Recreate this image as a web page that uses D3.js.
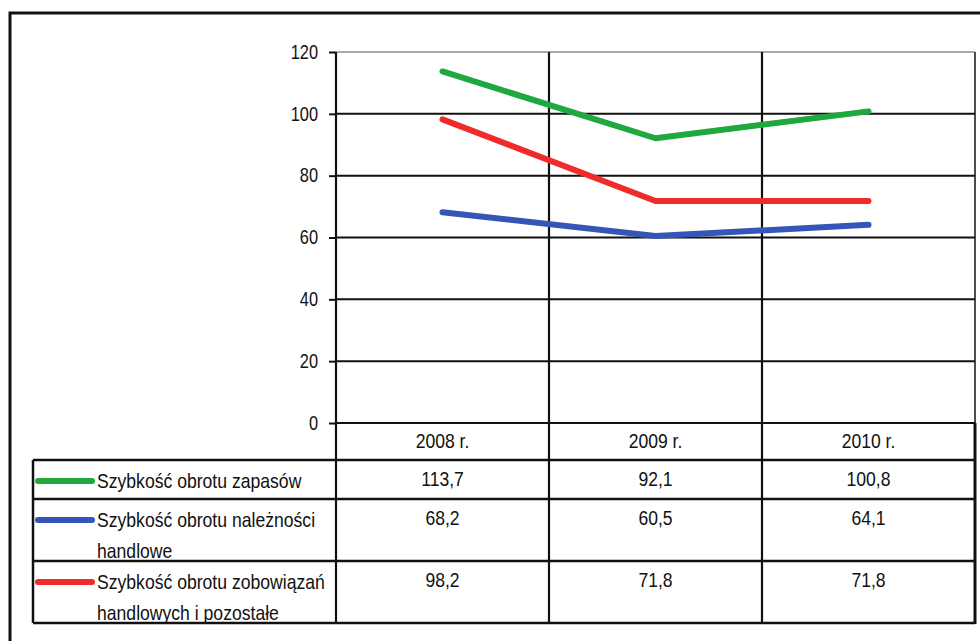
<!DOCTYPE html>
<html>
<head>
<meta charset="utf-8">
<script src="https://cdn.jsdelivr.net/npm/d3@7"></script>
<style>
  html, body { margin: 0; padding: 0; background: #fff; }
  svg text { font-family: "Liberation Sans Narrow", "Arial Narrow", "Liberation Sans", Arial, sans-serif; fill: #111; }
</style>
</head>
<body>
<svg id="chart" width="980" height="641"></svg>
<script>
// data
const categories = ["2008 r.", "2009 r.", "2010 r."];
const seriesNames = [
  ["Szybkość obrotu zapasów"],
  ["Szybkość obrotu należności", "handlowe"],
  ["Szybkość obrotu zobowiązań", "handlowych i pozostałe"]
];
const zapasy = [113.7, 92.1, 100.8];
const naleznosci = [68.2, 60.5, 64.1];
const zobowiazania = [98.2, 71.8, 71.8];
const seriesColors = ["#1fa83e", "#3556b8", "#f02b2b"];
const yTicks = [0, 20, 40, 60, 80, 100, 120];

const series = [zapasy, naleznosci, zobowiazania].map((values, i) => ({
  lines: seriesNames[i],
  values: values,
  color: seriesColors[i]
}));

const svg = d3.select("#chart");

const plot = { left: 336, right: 975, top: 52, bottom: 423 };
const table = { left: 33, headerBottom: 460, rows: [460, 499, 561, 623] };

const x = d3.scaleBand().domain(categories).range([plot.left, plot.right]).paddingInner(0);
const y = d3.scaleLinear().domain([0, 120]).range([plot.bottom, plot.top]);
const cx = c => x(c) + x.bandwidth() / 2;

const fmt = d3.formatLocale({ decimal: ",", thousands: " ", grouping: [3], currency: ["", ""] }).format(".1f");

// the scan uses a narrow face which is not installed: squeeze the regular one
const squeeze = (sel, tx, ty, k) => sel.attr("x", null).attr("transform", `translate(${tx},${ty}) scale(${k},1)`);

// outer frame (cut off at right and bottom)
svg.append("path")
  .attr("d", "M10,641 V13 H980")
  .attr("fill", "none")
  .attr("stroke", "#111")
  .attr("stroke-width", 3);

// horizontal gridlines
svg.append("g").selectAll("line")
  .data(yTicks.filter(t => t > 0))
  .join("line")
  .attr("x1", plot.left).attr("x2", plot.right)
  .attr("y1", d => y(d)).attr("y2", d => y(d))
  .attr("stroke", d => d === 120 ? "#555" : "#111")
  .attr("stroke-width", d => d === 120 ? 1.2 : 2);

// y axis with outside ticks
const yAxis = svg.append("g")
  .attr("transform", `translate(${plot.left},0)`)
  .call(d3.axisLeft(y).tickValues(yTicks).tickSize(7).tickPadding(10).tickFormat(d3.format("d")));
yAxis.select(".domain").remove();
yAxis.selectAll(".tick line").attr("stroke", "#111").attr("stroke-width", 2);
yAxis.selectAll(".tick text")
  .attr("font-size", 19.5)
  .attr("fill", "#111")
  .call(squeeze, -18, 0, 0.84);

// x axis line (zero)
svg.append("line")
  .attr("x1", plot.left).attr("x2", plot.right)
  .attr("y1", y(0)).attr("y2", y(0))
  .attr("stroke", "#111").attr("stroke-width", 2);

// vertical lines: axis, category separators, right edge
const vx = categories.map(c => x(c)).concat([plot.right]);
svg.append("g").selectAll("line")
  .data(vx)
  .join("line")
  .attr("x1", d => d).attr("x2", d => d)
  .attr("y1", plot.top).attr("y2", table.rows[table.rows.length - 1])
  .attr("stroke", "#111")
  .attr("stroke-width", (d, i) => i === vx.length - 1 ? 1.5 : 2.2);

// right border thicker in the table
svg.append("line")
  .attr("x1", plot.right).attr("x2", plot.right)
  .attr("y1", plot.bottom).attr("y2", table.rows[table.rows.length - 1] + 1)
  .attr("stroke", "#111").attr("stroke-width", 3);

// table horizontal rules
svg.append("g").selectAll("line")
  .data(table.rows)
  .join("line")
  .attr("x1", table.left).attr("x2", plot.right)
  .attr("y1", d => d).attr("y2", d => d)
  .attr("stroke", "#111").attr("stroke-width", 2.5);

svg.append("line")
  .attr("x1", table.left).attr("x2", table.left)
  .attr("y1", table.rows[0]).attr("y2", table.rows[table.rows.length - 1])
  .attr("stroke", "#111").attr("stroke-width", 2.5);

// category header labels
svg.append("g").selectAll("text")
  .data(categories)
  .join("text")
  .attr("dy", "0.35em")
  .attr("text-anchor", "middle")
  .attr("font-size", 19.5)
  .text(d => d)
  .each(function(d) {
    d3.select(this).call(squeeze, cx(d), (plot.bottom + table.headerBottom) / 2, 0.9);
  });

// data lines
const line = d3.line()
  .x((d, i) => cx(categories[i]))
  .y(d => y(d));

svg.append("g").selectAll("path")
  .data(series)
  .join("path")
  .attr("d", d => line(d.values))
  .attr("fill", "none")
  .attr("stroke", d => d.color)
  .attr("stroke-width", 6)
  .attr("stroke-linecap", "round")
  .attr("stroke-linejoin", "round");

// table rows: legend key, label lines, values
const rows = svg.append("g").selectAll("g")
  .data(series)
  .join("g")
  .attr("transform", (d, i) => `translate(0,${table.rows[i] + 21})`);

rows.append("line")
  .attr("x1", 38).attr("x2", 92)
  .attr("y1", 0).attr("y2", 0)
  .attr("stroke", d => d.color)
  .attr("stroke-width", 6)
  .attr("stroke-linecap", "round");

rows.each(function(d) {
  const g = d3.select(this);
  d.lines.forEach((t, k) => {
    g.append("text")
      .attr("dy", "0.35em")
      .attr("font-size", 20)
      .text(t)
      .call(squeeze, 97, k * 31, 0.88);
  });
  d.values.forEach((v, k) => {
    g.append("text")
      .attr("dy", "0.35em")
      .attr("text-anchor", "middle")
      .attr("font-size", 19.5)
      .text(fmt(v))
      .call(squeeze, cx(categories[k]), -2, 0.9);
  });
});
</script>
</body>
</html>
